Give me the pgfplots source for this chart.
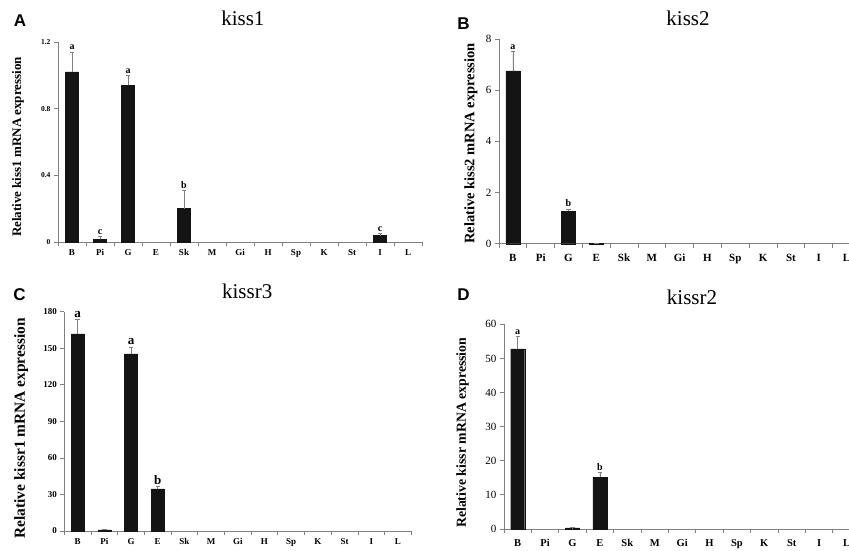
\documentclass[border=0pt]{standalone}
\usepackage{pgfplots}
\pgfplotsset{compat=1.18}
\usepackage{fontspec}
\setmainfont{Liberation Serif}
\newfontfamily\panelfont{Liberation Sans}
\definecolor{barc}{HTML}{141414}
\definecolor{axc}{HTML}{808080}
\newcommand{\fs}[1]{\fontsize{#1}{#1}\selectfont}
\pgfplotsset{
  kbase/.style={
    scale only axis,
    axis lines=left,
    axis line style={-,draw=axc,line width=0.8pt},
    xmin=-0.5,
    xtick={0,...,12},
    xticklabels={B,Pi,G,E,Sk,M,Gi,H,Sp,K,St,I,L},
    major x tick style={draw=none},
    minor xtick={-0.5,0.5,...,12.5},
    tick align=outside,
    tick style={axc,line width=0.8pt},
    major tick length=4pt, minor tick length=4pt,
    ymin=0,
    clip=false,
    ylabel style={anchor=center,font=\bfseries},
    title style={anchor=center,font=\fs{21}},
  },
  kbar/.style={ybar, bar width=#1, fill=barc, draw=barc, line width=0.4pt,
    error bars/y dir=plus, error bars/y explicit,
    error bars/error bar style={axc,line width=0.8pt},
    error bars/error mark options={rotate=90,axc,mark size=2.2pt,line width=0.8pt}},
  klet/.style={only marks, mark=*, mark size=0pt, mark options={draw=none,fill=none},
    point meta=explicit symbolic, nodes near coords,
    nodes near coords style={font=\bfseries\fs{#1}, anchor=south, inner sep=2pt, text=black}},
}
\begin{document}
\begin{tikzpicture}
% ---------- A: kiss1
\begin{axis}[kbase, at={(58pt,308pt)}, anchor=south west, width=364pt, height=200pt,
  xmax=12.5, ymax=1.2, ytick={0,0.4,0.8,1.2}, yticklabels={0,0.4,0.8,1.2},
  yticklabel style={font=\bfseries\fs{7.5}},
  xticklabel style={font=\bfseries\fs{9}},
  ylabel={Relative kiss1 mRNA expression},
  ylabel style={at={(axis description cs:-0.11,0.475)},font=\bfseries\fs{13}},
  title={kiss1}, title style={at={(axis description cs:0.508,1)},yshift=18pt}]
\addplot[kbar=13pt] coordinates {
 (0,1.02) +- (0,0.12) (1,0.016) +- (0,0.018) (2,0.94) +- (0,0.06)
 (4,0.20) +- (0,0.11) (11,0.038) +- (0,0.014)};
\addplot[klet=10] coordinates {(0,1.14)[a] (1,0.034)[c] (2,1.0)[a] (4,0.31)[b] (11,0.052)[c]};
\end{axis}
% ---------- B: kiss2
\begin{axis}[kbase, at={(499pt,306.3pt)}, anchor=south west, width=350pt, height=204.7pt,
  xmax=12.09, ymax=8, ytick={0,2,4,6,8}, yticklabels={0,2,4,6,8},
  yticklabel style={font=\fs{11}},
  xticklabel style={font=\bfseries\fs{11},yshift=-3pt},
  ylabel={Relative kiss2 mRNA expression},
  ylabel style={at={(axis description cs:-0.08,0.49)},font=\bfseries\fs{14.5}},
  title={kiss2}, title style={at={(axis description cs:0.54,1)},yshift=15pt}]
\addplot[kbar=14pt] coordinates {
 (0,6.75) +- (0,0.75) (2,1.27) +- (0,0.08) (3,0.02) +- (0,0)};
\addplot[klet=10] coordinates {(0,7.5)[a] (2,1.35)[b]};
\end{axis}
% ---------- C: kissr3
\begin{axis}[kbase, at={(64.3pt,19pt)}, anchor=south west, width=347pt, height=219.3pt,
  xmax=12.5, ymax=180, ytick={0,30,...,180}, yticklabels={0,30,60,90,120,150,180},
  yticklabel style={font=\bfseries\fs{9}},
  xticklabel style={font=\bfseries\fs{9}},
  ylabel={Relative kissr1 mRNA expression},
  ylabel style={at={(axis description cs:-0.124,0.468)},font=\bfseries\fs{15.4}},
  title={kissr3}, title style={at={(axis description cs:0.527,1)},yshift=14pt}]
\addplot[kbar=13pt] coordinates {
 (0,161.7) +- (0,12) (1,1) +- (0,0.5) (2,145.3) +- (0,5.5) (3,34.5) +- (0,2)};
\addplot[klet=13] coordinates {(0,173.7)[a] (2,150.8)[a] (3,36.5)[b]};
\end{axis}
% ---------- D: kissr2
\begin{axis}[kbase, at={(504pt,21pt)}, anchor=south west, width=345pt, height=204.7pt,
  xmax=12.09, ymax=60, ytick={0,10,...,60}, yticklabels={0,10,20,30,40,50,60},
  yticklabel style={font=\fs{11}},
  xticklabel style={font=\bfseries\fs{10.5},yshift=-3pt},
  ylabel={Relative kissr mRNA expression},
  ylabel style={at={(axis description cs:-0.12,0.47)},font=\bfseries\fs{13.8}},
  title={kissr2}, title style={at={(axis description cs:0.545,1)},yshift=21pt}]
\addplot[kbar=14pt] coordinates {
 (0,52.8) +- (0,3.6) (2,0.3) +- (0,0.1) (3,15.2) +- (0,1.4)};
\addplot[klet=10] coordinates {(0,56.4)[a] (3,16.6)[b]};
\end{axis}
% panel letters
\node[font=\panelfont\bfseries\fs{17}] at (20pt,529pt) {A};
\node[font=\panelfont\bfseries\fs{17}] at (463.5pt,526.5pt) {B};
\node[font=\panelfont\bfseries\fs{17}] at (19.5pt,255.5pt) {C};
\node[font=\panelfont\bfseries\fs{17}] at (463.5pt,255.5pt) {D};
\pgfresetboundingbox
\path (0pt,0pt) rectangle (849pt,550pt);
\end{tikzpicture}
\end{document}
